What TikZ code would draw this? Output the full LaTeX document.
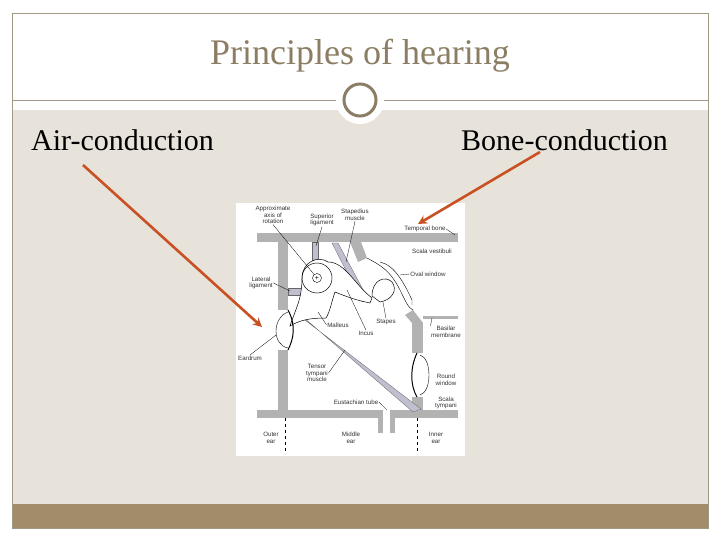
\documentclass[tikz,border=0pt]{standalone}
\usepackage{fontspec}
\usetikzlibrary{arrows.meta}
\setmainfont{Liberation Serif}
\newfontfamily\lab{Liberation Sans}
\begin{document}
\begin{tikzpicture}[x=1pt,y=-1pt,
  bone/.style={fill=black!30,draw=none},
  musc/.style={fill=blue!25!black!25,draw=black!60,line width=0.3pt},
  lbl/.style={font=\lab\fontsize{6.2}{6.6}\selectfont,align=center,text=black!80,inner sep=0.5pt},
  lead/.style={draw=black,line width=0.3pt},
  arr/.style={draw={rgb,255:red,200;green,80;blue,35},line width=2.6pt,-{Stealth[length=9pt,width=9pt]}}]
\definecolor{beige}{RGB}{232,227,218}
\definecolor{bar}{RGB}{162,141,106}
\definecolor{ttl}{RGB}{140,126,100}
\useasboundingbox (0,0) rectangle (720,540);
\fill[white] (0,0) rectangle (720,540);
\fill[beige] (12,110) rectangle (708,504);
\fill[bar] (12,504) rectangle (708,528);
\draw[ttl!80,line width=0.6pt] (12,13) rectangle (708,528);
\draw[ttl!80,line width=0.6pt] (12,100) -- (708,100);
\fill[white] (360,100) circle (24);
\draw[ttl,line width=3pt,fill=white] (360,100) circle (16);
\node[text=ttl,font=\fontsize{36}{40}\selectfont] (title) at (360,56) {Principles of hearing};
\node[font=\fontsize{30}{34}\selectfont,anchor=west,inner sep=0pt] (air) at (31,140) {Air-conduction};
\node[font=\fontsize{30}{34}\selectfont,anchor=east,inner sep=0pt] (bonec) at (668,140) {Bone-conduction};
% image
\fill[white] (236,203) rectangle (465,456);
\fill[bone] (257,233) rectangle (458,242);
\fill[bone] (278,242) rectangle (288,310);
\fill[bone] (278,350) rectangle (288,410);
\fill[bone] (257,410) rectangle (383,418);
\fill[bone] (378,418) rectangle (383,433);
\fill[bone] (390,410) rectangle (458,418);
\fill[bone] (390,418) rectangle (395,433);
\fill[bone] (412,397) rectangle (423,410);
\fill[bone] (412,323) rectangle (423,353);
\fill[bone] (405,315) -- (413,310) -- (423,323) -- (412,323) -- cycle;
\fill[bone] (350,242) -- (361,242) -- (367,258) -- (358,262) -- cycle;
\fill[black!30] (423,316) rectangle (458,319);
\fill[musc] (332,243) -- (338,243) -- (368,299) -- (362,302) -- cycle;
\fill[musc] (295,310) -- (301,317) -- (421,409) -- (413,412) -- cycle;
\fill[musc] (312,242) rectangle (318,260);
\fill[musc] (288,288) rectangle (302,295);
% ossicles
\draw[line width=0.5pt,fill=white] (302,278) .. controls (302,262) and (318,255) .. (328,262)
  .. controls (345,262) and (355,285) .. (372,298) -- (370,303)
  .. controls (355,300) and (345,296) .. (335,292)
  .. controls (332,300) and (330,312) .. (326,318)
  .. controls (310,318) and (300,320) .. (290,326)
  .. controls (295,310) and (302,300) .. (302,278) -- cycle;
\draw[line width=0.5pt] (317,278) circle (15);
\node[draw,circle,inner sep=0pt,minimum size=9pt,fill=white,font=\lab\fontsize{7}{7}\selectfont] (axis) at (317,278) {+};
\draw[line width=0.5pt,fill=white] (372,296) .. controls (372,280) and (385,275) .. (392,282)
  .. controls (398,290) and (392,300) .. (380,302) -- cycle;
\draw[line width=0.4pt] (367,258) .. controls (380,265) and (390,270) .. (400,290)
  .. controls (405,300) and (408,308) .. (413,310);
\draw[line width=0.4pt] (380,262) .. controls (395,265) and (405,285) .. (412,300) -- (412,305);
% eardrum
\draw[line width=1pt] (288,310) .. controls (296,325) and (294,338) .. (288,350);
\draw[line width=0.4pt] (288,312) .. controls (272,318) and (272,345) .. (288,348);
% round window
\draw[line width=1pt] (417,353) .. controls (410,368) and (410,385) .. (417,397);
\draw[line width=0.4pt] (420,355) .. controls (432,358) and (432,392) .. (420,395);
% dashed lines
\draw[dashed,line width=0.4pt] (285,418) -- (285,452);
\draw[dashed,line width=0.6pt] (417,418) -- (417,452);
% labels
\node[lbl] (l1) at (273,215) {Approximate\\axis of\\rotation};
\node[lbl] (l2) at (322,220) {Superior\\ligament};
\node[lbl] (l3) at (355,215) {Stapedius\\muscle};
\node[lbl] (l4) at (425,229) {Temporal bone};
\node[lbl] (l5) at (432,251) {Scala vestibuli};
\node[lbl] (l6) at (428,274) {Oval window};
\node[lbl] (l7) at (261,283) {Lateral\\ligament};
\node[lbl] (l8) at (338,325) {Malleus};
\node[lbl] (l9) at (386,322) {Stapes};
\node[lbl] (l10) at (366,333) {Incus};
\node[lbl] (l11) at (446,332) {Basilar\\membrane};
\node[lbl] (l12) at (250,358) {Eardrum};
\node[lbl] (l13) at (317,373) {Tensor\\tympani\\muscle};
\node[lbl] (l14) at (446,380) {Round\\window};
\node[lbl] (l15) at (356,402) {Eustachian tube};
\node[lbl] (l16) at (446,403) {Scala\\tympani};
\node[lbl] (l17) at (271,438) {Outer\\ear};
\node[lbl] (l18) at (351,438) {Middle\\ear};
\node[lbl] (l19) at (436,438) {Inner\\ear};
\draw[lead] (l1.south) -- (axis);
\draw[lead] (l2.south) -- (316,246);
\draw[lead] (l3.south) -- (346,262);
\draw[lead] (l6.west) -- (400,275);
\draw[lead] (l7.east) -- (290,291);
\draw[lead] (l8.west) -- (318,312);
\draw[lead] (l9.north) -- (383,302);
\draw[lead] (l10.north) -- (347,290);
\draw[lead] (l11.north west) -- (432,318);
\draw[lead] (l12.north) -- (276,335);
\draw[lead] (l13.east) -- (345,350);
\draw[lead] (l15.east) -- (387,410);
\draw[lead] (l4.east) -- (455,235);
% arrows
\coordinate (a1) at (83,165); \coordinate (a2) at (262,327);
\coordinate (b1) at (540,152); \coordinate (b2) at (418,224);
\draw[arr] (a1) -- (a2);
\draw[arr] (b1) -- (b2);
\end{tikzpicture}
\end{document}
